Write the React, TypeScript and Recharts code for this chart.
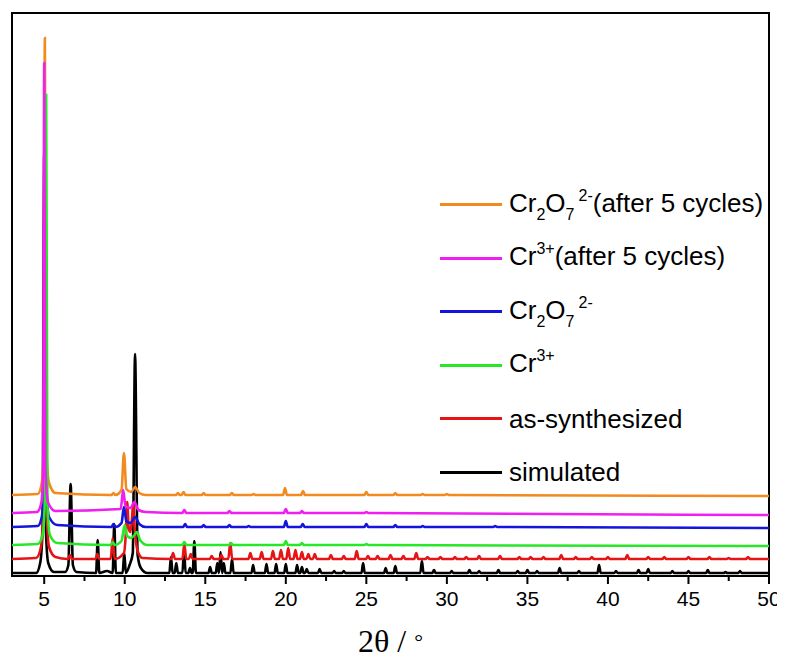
import React from "react";
import { LineChart, Line, XAxis, YAxis, ReferenceArea, Legend } from "recharts";

// [2θ, height above the trace's own baseline, half width of the peak foot]
// half width 0 = plain point (used to draw the skirts of the big reflections)
type Peak = [number, number, number?];

const X_DOMAIN: [number, number] = [3, 50];
const Y_DOMAIN: [number, number] = [0, 563];
const MAJOR_TICKS = [5, 10, 15, 20, 25, 30, 35, 40, 45, 50];
const MINOR_TICKS = [7.5, 12.5, 17.5, 22.5, 27.5, 32.5, 37.5, 42.5, 47.5];

const SANS = "'Liberation Sans', Arial, sans-serif";
const SERIF = "'Liberation Serif', 'Times New Roman', serif";

const simulated: Peak[] = [
  [3, 0, 0],
  [4.5, 0, 0], [4.75, 10, 0], [4.9, 45, 0], [5.0, 420, 0], [5.1, 45, 0], [5.25, 10, 0], [5.6, 1, 0],
  [6.3, 1, 0], [6.5, 8, 0], [6.64, 89, 0], [6.78, 8, 0], [7.0, 1, 0],
  [8.32, 33], [8.9, 2, 0], [9.35, 49], [9.97, 20],
  [10.3, 8, 0], [10.5, 20, 0], [10.64, 219, 0], [10.8, 18, 0], [11.0, 5, 0], [11.4, 0, 0],
  [12.87, 16], [13.2, 10], [13.68, 23], [14.05, 5], [14.32, 32],
  [15.3, 6], [15.75, 10], [15.95, 21], [16.15, 10], [16.66, 14],
  [17.97, 8], [18.8, 9], [19.4, 9], [20.0, 9], [20.7, 8], [21.0, 6], [21.3, 4], [22.1, 4], [23.0, 2], [23.6, 2],
  [24.8, 10], [26.2, 5], [26.8, 7], [28.45, 12], [29.2, 3], [30.3, 2], [31.4, 3], [32.0, 2], [33.2, 3],
  [34.4, 2], [35.0, 3], [35.6, 2], [37.0, 5], [38.2, 2], [39.45, 8], [40.5, 2], [41.9, 3], [42.5, 4],
  [44.0, 2], [45.0, 2], [46.2, 3], [47.3, 1], [48.2, 2],
  [50, 0, 0],
];

const asSynthesized: Peak[] = [
  [3, 0, 0],
  [4.5, 1, 0], [4.8, 12, 0], [4.95, 60, 0], [5.05, 380, 0], [5.15, 50, 0], [5.3, 12, 0], [5.7, 2, 0],
  [6.6, 4], [8.3, 5], [9.25, 21],
  [9.95, 6, 0], [10.08, 30, 0], [10.15, 57, 0], [10.25, 30, 0], [10.35, 27, 0], [10.45, 40, 0],
  [10.52, 55, 0], [10.62, 30, 0], [10.8, 8, 0], [11.1, 1, 0],
  [13.0, 6], [13.7, 15], [14.1, 5], [15.4, 3], [16.0, 4], [16.55, 16], [17.8, 6], [18.5, 7], [19.2, 8],
  [19.7, 9], [20.15, 11], [20.6, 9], [21.0, 7], [21.4, 5], [21.8, 5], [22.8, 4], [23.6, 3], [24.4, 8],
  [25.1, 3], [25.7, 3], [26.5, 4], [27.3, 3], [28.1, 6], [28.8, 2], [29.6, 2], [30.5, 2], [31.2, 2],
  [32.0, 3], [33.3, 3], [34.5, 2], [35.2, 2], [36.0, 2], [37.1, 4], [38.0, 2], [39.0, 2], [40.0, 2],
  [41.2, 4], [42.5, 2], [43.5, 2], [45.0, 2], [46.3, 2], [47.5, 1], [48.7, 2],
  [50, 0, 0],
];

const cr3: Peak[] = [
  [3, 0, 0],
  [4.6, 1, 0], [4.9, 10, 0], [5.03, 40, 0], [5.12, 450, 0], [5.2, 40, 0], [5.35, 10, 0], [5.8, 2, 0],
  [9.25, 3],
  [9.8, 4, 0], [10.0, 20, 0], [10.15, 9, 0], [10.4, 7, 0], [10.6, 10, 0], [10.75, 13, 0], [10.95, 5, 0], [11.4, 0, 0],
  [13.7, 3], [16.6, 2], [20.0, 4], [21.0, 2], [25.0, 1],
  [50, -1, 0],
];

const cr2o7: Peak[] = [
  [3, 0, 0],
  [4.6, 1, 0], [4.85, 10, 0], [4.97, 45, 0], [5.04, 420, 0], [5.12, 45, 0], [5.3, 10, 0], [5.8, 2, 0],
  [9.3, 3],
  [9.8, 4, 0], [9.95, 20, 0], [10.1, 6, 0], [10.35, 4, 0], [10.65, 10, 0], [10.9, 3, 0], [11.3, 0, 0],
  [13.75, 3], [14.9, 2], [16.5, 2], [17.7, 1], [20.0, 6], [21.05, 3], [25.0, 3], [26.8, 2], [28.5, 1], [33.0, 1],
  [50, -1, 0],
];

const cr3Cycled: Peak[] = [
  [3, 0, 0],
  [4.55, 1, 0], [4.82, 10, 0], [4.94, 45, 0], [5.0, 450, 0], [5.07, 45, 0], [5.25, 10, 0], [5.7, 2, 0],
  [9.75, 4, 0], [9.9, 23, 0], [10.05, 7, 0], [10.35, 5, 0], [10.6, 11, 0], [10.85, 3, 0], [11.3, 1, 0],
  [13.7, 3], [16.5, 2], [20.0, 4], [21.0, 2], [25.0, 1],
  [50, -2, 0],
];

const cr2o7Cycled: Peak[] = [
  [3, 0, 0],
  [4.6, 1, 0], [4.85, 12, 0], [4.97, 50, 0], [5.04, 457, 0], [5.12, 50, 0], [5.3, 12, 0], [5.7, 2, 0],
  [9.3, 2],
  [9.8, 5, 0], [9.95, 42, 0], [10.1, 6, 0], [10.4, 3, 0], [10.65, 8, 0], [10.9, 2, 0], [11.3, 0, 0],
  [13.3, 2], [13.65, 3], [14.9, 2], [16.65, 2], [18.0, 1], [19.95, 7], [21.07, 4], [25.0, 3], [26.8, 2],
  [28.5, 1], [30.0, 1],
  [50, -1, 0],
];

// vertical offset of each pattern (stacked plot)
const OFFSETS = { simulated: 3, asSynthesized: 17, cr3: 31, cr2o7: 49, cr3Cycled: 63, cr2o7Cycled: 81 };

type Part = { t: string; sub?: boolean; sup?: boolean };

// drawing order = first drawn at the back
const SERIES: { key: string; peaks: Peak[]; base: number; hw: number; color: string; label: Part[] }[] = [
  { key: "simulated", peaks: simulated, base: OFFSETS.simulated, hw: 0.1, color: "#000000", label: [{ t: "simulated" }] },
  { key: "asSynthesized", peaks: asSynthesized, base: OFFSETS.asSynthesized, hw: 0.12, color: "#e61414", label: [{ t: "as-synthesized" }] },
  {
    key: "cr2o7Cycled", peaks: cr2o7Cycled, base: OFFSETS.cr2o7Cycled, hw: 0.12, color: "#f28a1f",
    label: [{ t: "Cr" }, { t: "2", sub: true }, { t: "O" }, { t: "7", sub: true }, { t: "2-", sup: true }, { t: "(after 5 cycles)" }],
  },
  {
    key: "cr2o7", peaks: cr2o7, base: OFFSETS.cr2o7, hw: 0.12, color: "#1414dc",
    label: [{ t: "Cr" }, { t: "2", sub: true }, { t: "O" }, { t: "7", sub: true }, { t: "2-", sup: true }],
  },
  { key: "cr3", peaks: cr3, base: OFFSETS.cr3, hw: 0.12, color: "#28e628", label: [{ t: "Cr" }, { t: "3+", sup: true }] },
  {
    key: "cr3Cycled", peaks: cr3Cycled, base: OFFSETS.cr3Cycled, hw: 0.12, color: "#f01ef0",
    label: [{ t: "Cr" }, { t: "3+", sup: true }, { t: "(after 5 cycles)" }],
  },
];

const LEGEND_ORDER = ["cr2o7Cycled", "cr3Cycled", "cr2o7", "cr3", "asSynthesized", "simulated"];

// peak list -> polyline points (foot, apex, foot)
function trace(base: number, peaks: Peak[], hw: number) {
  const pts: { t: number; v: number }[] = [];
  for (const [pos, h, w = hw] of peaks) {
    const last = pts[pts.length - 1];
    if (w > 0 && (!last || pos - w > last.t)) pts.push({ t: pos - w, v: base });
    pts.push({ t: pos, v: base + h });
    if (w > 0) pts.push({ t: pos + w, v: base });
  }
  return pts;
}

function AxisTick({ x, y, payload }: any) {
  const major = MAJOR_TICKS.includes(payload.value);
  return (
    <g>
      <line x1={x} x2={x} y1={y} y2={y + (major ? 8 : 5)} stroke="#000" strokeWidth={2} />
      {major && (
        <text x={x} y={y + 30} textAnchor="middle" fontSize={21} fontFamily={SANS} fill="#000">
          {payload.value}
        </text>
      )}
    </g>
  );
}

function AxisTitle({ viewBox }: any) {
  const cx = viewBox.x + viewBox.width / 2;
  return (
    <text x={cx} y={viewBox.y + 76} textAnchor="middle" fontSize={32} fontFamily={SERIF} fill="#000">
      2θ / <tspan fontSize={22} dy={-3}>°</tspan>
    </text>
  );
}

function LegendBox() {
  const rows = LEGEND_ORDER.map((k) => SERIES.find((s) => s.key === k)!);
  return (
    <div style={{ position: "relative", width: 340, height: 330, fontFamily: SANS, fontSize: 26, color: "#000" }}>
      {rows.map((s, i) => (
        <div
          key={s.key}
          style={{ position: "absolute", left: 0, top: i * 53.5, height: 53.5, display: "flex", alignItems: "center" }}
        >
          <div style={{ width: 62, height: 0, borderTop: `3px solid ${s.color}`, marginRight: 7 }} />
          <span style={{ whiteSpace: "nowrap", lineHeight: "30px" }}>
            {s.label.map((p, j) =>
              p.sub || p.sup ? (
                <span
                  key={j}
                  style={{ fontSize: 16, position: "relative", top: p.sub ? 8 : -11, marginLeft: p.sup && j > 2 ? 4 : 0 }}
                >
                  {p.t}
                </span>
              ) : (
                <span key={j}>{p.t}</span>
              ),
            )}
          </span>
        </div>
      ))}
    </div>
  );
}

export default function App() {
  const ticks = [...MAJOR_TICKS, ...MINOR_TICKS].sort((a, b) => a - b);
  return (
    <LineChart width={777} height={656} margin={{ top: 5, right: 16, left: 4, bottom: 0 }}>
      <XAxis
        type="number"
        dataKey="t"
        domain={X_DOMAIN}
        ticks={ticks}
        allowDataOverflow
        interval={0}
        tickSize={0}
        tickMargin={0}
        tickLine={false}
        tick={<AxisTick />}
        axisLine={{ stroke: "#000", strokeWidth: 2 }}
        height={88}
        label={<AxisTitle />}
      />
      <YAxis hide type="number" domain={Y_DOMAIN} allowDataOverflow />
      <ReferenceArea x1={X_DOMAIN[0]} x2={X_DOMAIN[1]} y1={Y_DOMAIN[0]} y2={Y_DOMAIN[1]} fill="none" stroke="#000" strokeWidth={2} />
      {SERIES.map((s) => (
        <Line
          key={s.key}
          name={s.key}
          data={trace(s.base, s.peaks, s.hw)}
          dataKey="v"
          type="monotone"
          stroke={s.color}
          strokeWidth={2.6}
          dot={false}
          activeDot={false}
          isAnimationActive={false}
        />
      ))}
      <Legend
        layout="horizontal"
        verticalAlign="middle"
        align="center"
        content={<LegendBox />}
        wrapperStyle={{ left: 432, top: 170, width: 340, height: 330 }}
      />
    </LineChart>
  );
}
